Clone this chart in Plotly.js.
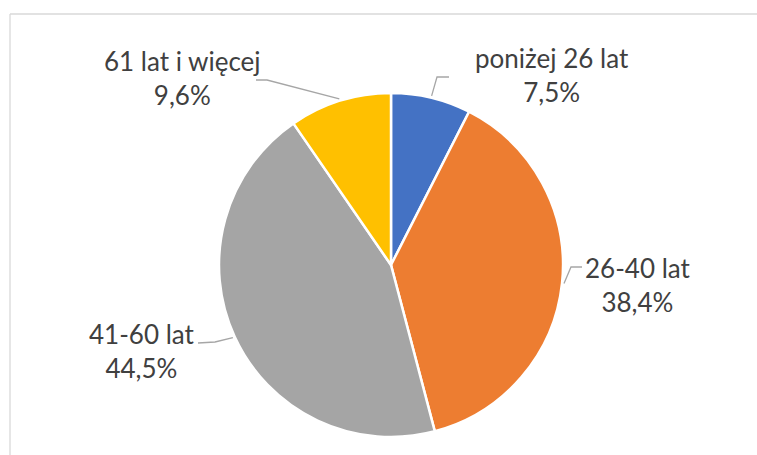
<!DOCTYPE html>
<html>
<head>
<meta charset="utf-8">
<script src="https://cdn.plot.ly/plotly-3.0.1.min.js"></script>
<style>html,body{margin:0;padding:0;background:#fff;}#chart{width:757px;height:455px;}</style>
</head>
<body>
<div id="chart"></div>
<script>
// ---- data ----
const categories = ["poniżej 26 lat", "26-40 lat", "41-60 lat", "61 lat i więcej"];
const shares = [7.5, 38.4, 44.5, 9.6];
const sliceColors = ["#4472c4", "#ed7d31", "#a5a5a5", "#ffc000"];

// ---- geometry / style ----
const W = 757, H = 455;
const CX = 391, CY = 265, R = 172;
// label anchor (px), elbow (px), line end (px) for each slice
const labelPos = [[552, 75], [638, 285], [142, 351], [182, 78]];
const elbowPos = [[437, 77], [571, 267], [215, 342], [267, 80]];
const endPos = [[449, 77], [582, 267], [198, 343], [256, 80]];
const fontFam = "Lato, 'Open Sans', sans-serif";
const textColor = "#404040";

const px = x => x / W;
const py = y => 1 - y / H;

const fmt = v => v.toFixed(1).replace('.', ',') + '%';

// leader line start points from slice mid angles (clockwise from 12 o'clock)
const total = shares.reduce((a, b) => a + b, 0);
let cum = 0;
const shapes = [];
const annotations = [];
shares.forEach((v, i) => {
  const mid = (cum + v / 2) / total * 2 * Math.PI;
  cum += v;
  const sx = CX + (R + 2) * Math.sin(mid);
  const sy = CY - (R + 2) * Math.cos(mid);
  shapes.push({
    type: 'path', xref: 'paper', yref: 'paper',
    path: `M ${px(sx)} ${py(sy)} L ${px(elbowPos[i][0])} ${py(elbowPos[i][1])} L ${px(endPos[i][0])} ${py(endPos[i][1])}`,
    line: {color: '#a6a6a6', width: 1.3}
  });
  annotations.push({
    xref: 'paper', yref: 'paper',
    x: px(labelPos[i][0]), y: py(labelPos[i][1]),
    xanchor: 'center', yanchor: 'middle',
    text: categories[i] + '<br>' + fmt(v),
    showarrow: false,
    font: {family: fontFam, size: 26, color: textColor}
  });
});

// chart frame
shapes.push({type: 'line', xref: 'paper', yref: 'paper', x0: px(10), x1: 1.01, y0: py(14), y1: py(14), line: {color: '#d9d9d9', width: 1.3}});
shapes.push({type: 'line', xref: 'paper', yref: 'paper', x0: px(10), x1: px(10), y0: py(14), y1: -0.01, line: {color: '#d9d9d9', width: 1.3}});

const trace = {
  type: 'pie',
  labels: categories,
  values: shares,
  sort: false,
  direction: 'clockwise',
  rotation: 0,
  textinfo: 'none',
  hoverinfo: 'label+percent',
  marker: {colors: sliceColors, line: {color: '#ffffff', width: 2.5}},
  domain: {x: [px(CX - R), px(CX + R)], y: [py(CY + R), py(CY - R)]}
};

const layout = {
  width: W, height: H,
  margin: {l: 0, r: 0, t: 0, b: 0},
  paper_bgcolor: '#ffffff',
  showlegend: false,
  shapes: shapes,
  annotations: annotations
};

Plotly.newPlot('chart', [trace], layout, {displayModeBar: false, staticPlot: true});
</script>
</body>
</html>
